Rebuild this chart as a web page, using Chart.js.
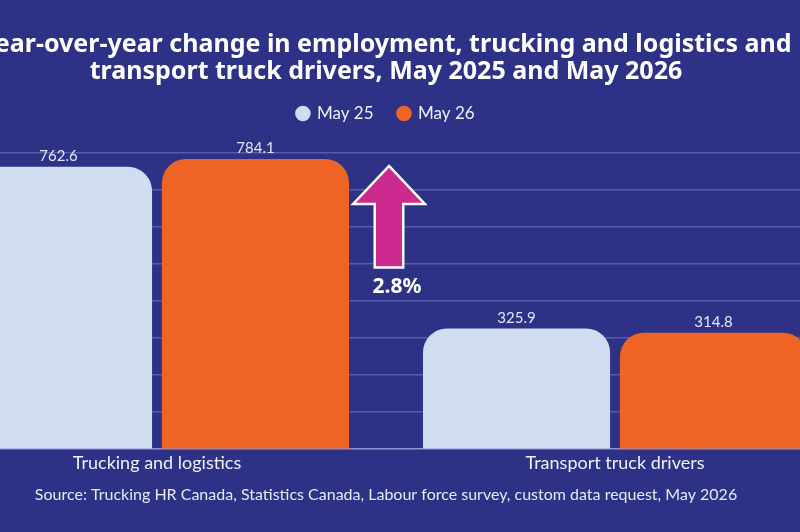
<!DOCTYPE html>
<html>
<head>
<meta charset="utf-8">
<script src="https://cdn.jsdelivr.net/npm/chart.js@4/dist/chart.umd.min.js"></script>
<style>
body { margin: 0; width: 800px; height: 532px; overflow: hidden; position: relative; background: #2d3287; }
#chart { position: absolute; left: -114px; top: 0; }
</style>
</head>
<body>
<canvas id="chart" width="1000" height="532"></canvas>
<script>
// data
var categories = ["Trucking and logistics", "Transport truck drivers"];
var seriesNames = ["May 25", "May 26"];
var may25 = [762.6, 325.9];
var may26 = [784.1, 314.8];
var yMax = 800;
var yStep = 100;

// arrow annotation sits between the two groups (values on the y scale)
var arrowTop = 760;
var arrowBottom = 494;
var change = (may26[0] - may25[0]) / may25[0] * 100;
var changeLabel = change.toFixed(1) + "%";

var valueLabels = {
    id: 'valueLabels',
    afterDatasetsDraw: function(chart) {
        var ctx = chart.ctx;
        ctx.save();
        ctx.font = '15px Lato';
        ctx.fillStyle = '#e3e7f5';
        ctx.textAlign = 'center';
        ctx.textBaseline = 'bottom';
        chart.data.datasets.forEach(function(ds, i) {
            chart.getDatasetMeta(i).data.forEach(function(bar, j) {
                ctx.fillText(ds.data[j].toFixed(1), bar.x, bar.y - 3);
            });
        });
        ctx.restore();
    }
};

var changeArrow = {
    id: 'changeArrow',
    afterDatasetsDraw: function(chart) {
        var ctx = chart.ctx;
        var x = chart.scales.x, y = chart.scales.y;
        var cx = (x.getPixelForValue(0) + x.getPixelForValue(1)) / 2 + 3;
        var top = y.getPixelForValue(arrowTop);
        var bottom = y.getPixelForValue(arrowBottom);
        var headW = 33, shaftW = 13, headH = 35;
        ctx.save();
        ctx.beginPath();
        ctx.moveTo(cx, top);
        ctx.lineTo(cx + headW, top + headH);
        ctx.lineTo(cx + shaftW, top + headH);
        ctx.lineTo(cx + shaftW, bottom);
        ctx.lineTo(cx - shaftW, bottom);
        ctx.lineTo(cx - shaftW, top + headH);
        ctx.lineTo(cx - headW, top + headH);
        ctx.closePath();
        ctx.fillStyle = '#cc2a8e';
        ctx.strokeStyle = '#ffffff';
        ctx.lineWidth = 5;
        ctx.lineJoin = 'miter';
        ctx.stroke();
        ctx.fill();
        ctx.font = 'bold 21px "Noto Sans"';
        ctx.fillStyle = '#ffffff';
        ctx.textAlign = 'center';
        ctx.textBaseline = 'middle';
        ctx.fillText(changeLabel, cx + 8, bottom + 21);
        ctx.restore();
    }
};

// give the legend some room below it
var legendGap = {
    id: 'legendGap',
    beforeInit: function(chart) {
        var fit = chart.legend.fit;
        chart.legend.fit = function() {
            fit.bind(chart.legend)();
            this.height += 21;
        };
    }
};

var ctx = document.getElementById("chart");

var myBarChart = new Chart(ctx, {
    type: 'bar',
    data: {
        labels: categories,
        datasets: [{
                label: seriesNames[0],
                data: may25,
                backgroundColor: '#d0ddf0',
                borderRadius: { topLeft: 24, topRight: 24 },
                borderSkipped: 'bottom'
            }, {
                label: seriesNames[1],
                data: may26,
                backgroundColor: '#ee6424',
                borderRadius: { topLeft: 24, topRight: 24 },
                borderSkipped: 'bottom'
            }]
    },
    plugins: [legendGap, valueLabels, changeArrow],
    options: {
        responsive: false,
        animation: false,
        barPercentage: 0.95,
        categoryPercentage: 0.86,
        layout: {
            padding: { top: 31, left: 42, right: 42, bottom: 28 }
        },
        scales: {
            x: {
                grid: { display: false, drawTicks: false },
                border: { display: false },
                ticks: {
                    color: '#eef0f8',
                    font: { family: 'Lato', size: 18 },
                    padding: 3
                }
            },
            y: {
                min: 0,
                max: yMax,
                ticks: { display: false, stepSize: yStep },
                border: { display: false },
                grid: {
                    drawTicks: false,
                    lineWidth: 1.5,
                    color: function(c) {
                        return c.tick && c.tick.value === 0 ? '#8e95d6' : '#555cab';
                    }
                }
            }
        },
        plugins: {
            title: {
                display: true,
                text: ["Year-over-year change in employment, trucking and logistics and", "transport truck drivers, May 2025 and May 2026"],
                color: '#ffffff',
                font: { family: 'Noto Sans', size: 25, weight: 'bold', lineHeight: 1.08 },
                padding: { top: 0, bottom: -5 }
            },
            legend: {
                labels: {
                    color: '#eef0f8',
                    font: { family: 'Lato', size: 17 },
                    usePointStyle: true,
                    pointStyle: 'circle',
                    boxWidth: 11,
                    boxHeight: 11,
                    padding: 25
                }
            },
            subtitle: {
                display: true,
                position: 'bottom',
                text: "Source: Trucking HR Canada, Statistics Canada, Labour force survey, custom data request, May 2026",
                color: '#e6e9f5',
                font: { family: 'Lato', size: 16 },
                padding: { top: 8, bottom: 0 }
            },
            tooltip: { enabled: false }
        }
    }
});
</script>
</body>
</html>
